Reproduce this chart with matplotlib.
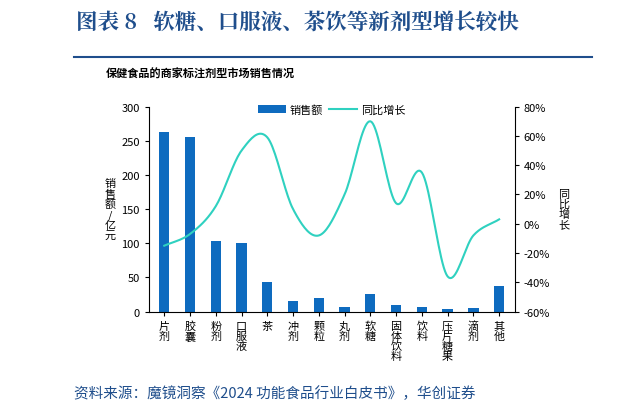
import numpy as np
import matplotlib.pyplot as plt
from matplotlib.lines import Line2D

plt.rcParams['font.family'] = ['Noto Sans CJK SC', 'DejaVu Sans']

categories = ['片\n剂', '胶\n囊', '粉\n剂', '口\n服\n液', '茶', '冲\n剂', '颗\n粒', '丸\n剂',
              '软\n糖', '固\n体\n饮\n料', '饮\n料', '压\n片\n糖\n果', '滴\n剂', '其\n他']
sales = [263, 256, 104, 101, 43, 16, 20, 6, 26, 10, 6, 4, 5, 38]
growth = [-15, -7, 12, 50, 59, 10, -8, 20, 70, 14, 35, -36, -8, 3]


def smooth(x, y, n=20):
    # catmull-rom curve through the points, only for drawing
    x = np.asarray(x, float); y = np.asarray(y, float)
    px = np.concatenate([[2*x[0]-x[1]], x, [2*x[-1]-x[-2]]])
    py = np.concatenate([[2*y[0]-y[1]], y, [2*y[-1]-y[-2]]])
    xs, ys = [], []
    t = np.linspace(0, 1, n, endpoint=False)
    for i in range(1, len(px) - 2):
        for arr, out in ((px, xs), (py, ys)):
            p0, p1, p2, p3 = arr[i-1:i+3]
            out.extend(0.5*((2*p1) + (-p0+p2)*t + (2*p0-5*p1+4*p2-p3)*t**2 + (-p0+3*p1-3*p2+p3)*t**3))
    xs.append(x[-1]); ys.append(y[-1])
    return xs, ys


fig = plt.figure(figsize=(6.2, 4.14), dpi=100)
fig.text(0.122, 0.945, '图表 8   软糖、口服液、茶饮等新剂型增长较快', fontsize=15.5,
         color='#1f4e8c', fontweight='bold', family=['Noto Serif CJK SC', 'Noto Sans CJK SC'], va='center')
fig.add_artist(Line2D([0.12, 0.955], [0.86, 0.86], color='#1f4e8c', lw=1.5))
fig.text(0.17, 0.82, '保健食品的商家标注剂型市场销售情况', fontsize=8, fontweight='bold', va='center')
fig.text(0.12, 0.05, '资料来源：魔镜洞察《2024 功能食品行业白皮书》，华创证券', fontsize=10.5,
         color='#1f4e8c', style='italic', va='center')

ax = fig.add_axes([0.24, 0.245, 0.59, 0.495])
x = np.arange(len(categories))
ax.bar(x, sales, width=0.4, color='#0e6bbf', label='销售额')
ax.set_ylim(0, 300)
ax.set_yticks(range(0, 301, 50))
ax.set_xlim(-0.6, len(categories) - 0.4)
ax.set_xticks(x)
ax.set_xticklabels(categories, fontsize=8, linespacing=1.0, va='top')
ax.set_ylabel('销\n售\n额\n/\n亿\n元', rotation=0, fontsize=8, labelpad=8, va='center', linespacing=1.0)
ax.tick_params(labelsize=8, length=3)
for s in ['top', 'right']:
    ax.spines[s].set_visible(False)

ax2 = ax.twinx()
sx, sy = smooth(x, growth)
ax2.plot(sx, sy, color='#2fd1c0', lw=1.5, label='同比增长')
ax2.set_ylim(-60, 80)
ax2.set_yticks(range(-60, 81, 20))
ax2.set_yticklabels([f'{v}%' for v in range(-60, 81, 20)])
ax2.tick_params(labelsize=8, length=3)
ax2.set_ylabel('同\n比\n增\n长', rotation=0, fontsize=8, labelpad=10, va='center', linespacing=1.0)
for s in ['top', 'left', 'bottom']:
    ax2.spines[s].set_visible(False)

h1, l1 = ax.get_legend_handles_labels()
h2, l2 = ax2.get_legend_handles_labels()
ax.legend(h1 + h2, l1 + l2, loc='upper center', bbox_to_anchor=(0.5, 1.06), ncol=2,
          frameon=False, fontsize=8, handlelength=2.5, columnspacing=0.6, handletextpad=0.3)

fig.savefig('out.png', dpi=100)
